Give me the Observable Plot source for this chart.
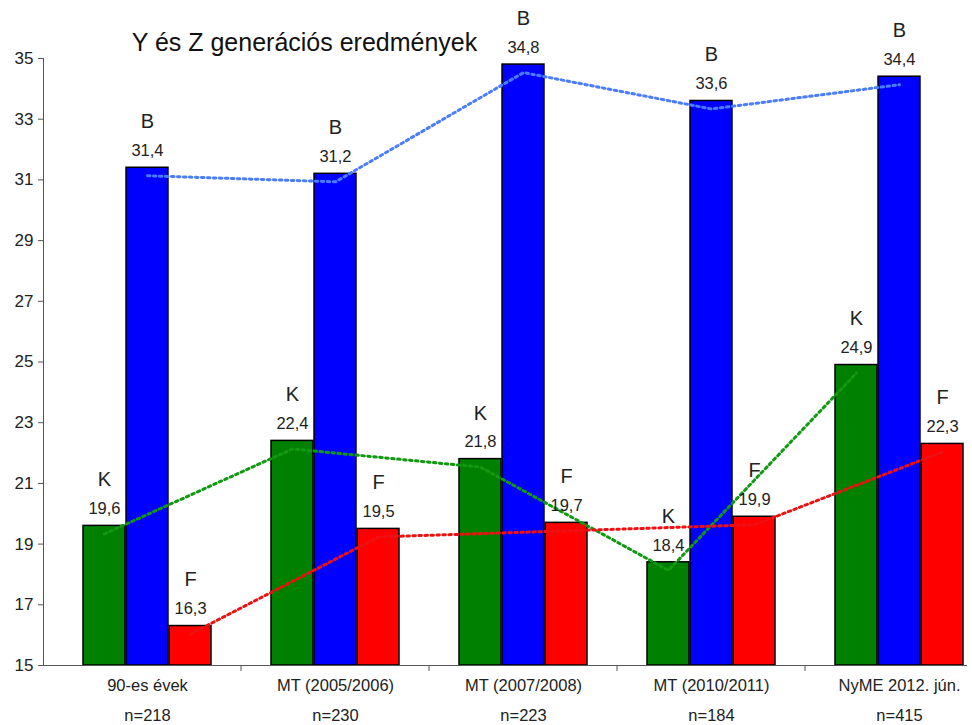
<!DOCTYPE html>
<html>
<head>
<meta charset="utf-8">
<script src="https://cdn.jsdelivr.net/npm/d3@7"></script>
<script src="https://cdn.jsdelivr.net/npm/@observablehq/plot@0.6"></script>
<style>
  html, body { margin: 0; padding: 0; background: #fff; }
  #chart svg { display: block; }
</style>
</head>
<body>
<div id="chart"></div>
<script>
const title = "Y és Z generációs eredmények";
const groups = ["90-es évek", "MT (2005/2006)", "MT (2007/2008)", "MT (2010/2011)", "NyME 2012. jún."];
const nLabels = ["n=218", "n=230", "n=223", "n=184", "n=415"];
const seriesNames = ["K", "B", "F"];
const valuesK = [19.6, 22.4, 21.8, 18.4, 24.9];
const valuesB = [31.4, 31.2, 34.8, 33.6, 34.4];
const valuesF = [16.3, 19.5, 19.7, 19.9, 22.3];
const yTicks = [15, 17, 19, 21, 23, 25, 27, 29, 31, 33, 35];
const baseline = 15;

const colors = {K: "#008000", B: "#0000ff", F: "#ff0000"};
const lineColors = {K: "#119911", B: "#4a7cff", F: "#ee1111"};
const seriesValues = {K: valuesK, B: valuesB, F: valuesF};
const rows = seriesNames.flatMap(s => groups.map((g, i) => ({series: s, group: g, value: seriesValues[s][i], n: nLabels[i]})));

const bw = 189 * (1 - 0.317);
const third = bw / 3;
const offsets = {K: -third, B: 0, F: third};
const insets = {K: [0, 2 * third], B: [third, third], F: [2 * third, 0]};
const fmt = v => String(v).replace(".", ",");
const font = "Liberation Sans, Arial, sans-serif";
const ink = "#222";

const marks = [];
for (const s of seriesNames) {
  const d = rows.filter(r => r.series === s);
  marks.push(Plot.barY(d, {
    x: "group", y1: baseline, y2: "value",
    fill: colors[s], stroke: "#000", strokeWidth: 1.5,
    insetLeft: insets[s][0], insetRight: insets[s][1]
  }));
}
for (const s of seriesNames) {
  const d = rows.filter(r => r.series === s);
  marks.push(Plot.lineY(d, {
    x: "group", y: "value", dx: offsets[s], dy: 8,
    stroke: lineColors[s], strokeWidth: 3, strokeDasharray: "2.5,3.5"
  }));
}
for (const s of seriesNames) {
  const d = rows.filter(r => r.series === s);
  marks.push(Plot.text(d, {
    x: "group", y: "value", text: d => fmt(d.value), dx: offsets[s], dy: -17,
    fontSize: 16.5, fill: ink
  }));
  marks.push(Plot.text(d, {
    x: "group", y: "value", text: "series", dx: offsets[s], dy: -46,
    fontSize: 20, fill: ink
  }));
}
marks.push(Plot.frame({anchor: "left", stroke: "#555"}));
marks.push(Plot.ruleY([baseline], {stroke: "#555"}));
marks.push(Plot.ruleX(groups.slice(1), {
  x: d => d, y1: baseline, y2: baseline, dx: -94.5, insetBottom: -6, stroke: "#555"
}));
marks.push(Plot.axisY({ticks: yTicks, tickSize: 5, tickPadding: 5, fontSize: 17, stroke: "#555", color: ink, label: null}));
marks.push(Plot.axisX({tickSize: 0, tickPadding: 14, fontSize: 16.5, color: ink, label: null}));
marks.push(Plot.text(groups, {x: d => d, y: baseline, text: (d, i) => nLabels[i], dy: 50, fontSize: 16.5, fill: ink}));
marks.push(Plot.text([title], {frameAnchor: "top-left", dx: 261, dy: -25, fontSize: 25, fill: "#111", textAnchor: "middle"}));

const chart = Plot.plot({
  width: 972,
  height: 725,
  marginTop: 58,
  marginBottom: 60,
  marginLeft: 43,
  marginRight: 5,
  style: {fontFamily: font, background: "#fff", overflow: "visible"},
  x: {type: "band", domain: groups, paddingInner: 0.317, paddingOuter: 0.103, align: 0.92, axis: null},
  y: {domain: [15, 35], axis: null},
  marks
});
document.getElementById("chart").appendChild(chart);
</script>
</body>
</html>
